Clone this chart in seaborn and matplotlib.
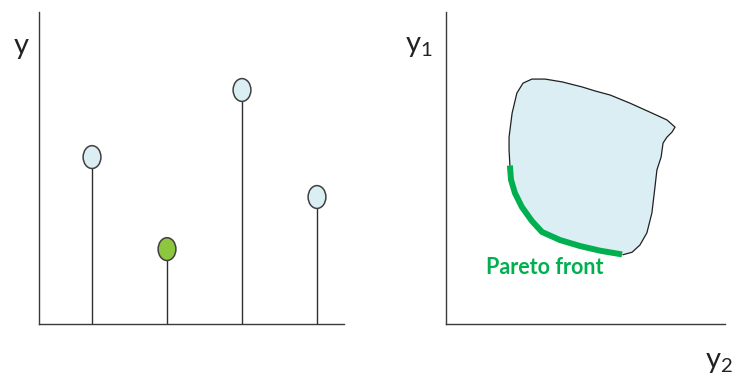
import matplotlib
matplotlib.use("Agg")
import matplotlib.pyplot as plt
from matplotlib.path import Path
from matplotlib.transforms import Affine2D
import seaborn as sns
import pandas as pd

# left panel: single objective, four candidate solutions
positions = [1, 2, 3, 4]
values = [5.35, 2.4, 7.5, 4.07]
kinds = ["other", "best", "other", "other"]

# right panel: feasible region in objective space (y2 horizontal, y1 vertical)
region_y2 = [2.29, 2.26, 2.26, 2.37, 2.54, 2.76, 3.08, 3.55, 4.16, 4.87, 5.34,
             5.88, 6.59, 7.31, 7.92, 8.21, 8.10, 7.92, 7.78, 7.71, 7.56, 7.49,
             7.38, 7.20, 6.95, 6.67, 6.34]
region_y1 = [5.08, 5.58, 5.99, 6.76, 7.40, 7.72, 7.85, 7.85, 7.76, 7.60, 7.47,
             7.34, 7.08, 6.79, 6.54, 6.31, 6.15, 5.99, 5.80, 5.35, 4.94, 4.39,
             3.56, 2.92, 2.53, 2.30, 2.22]
front_y2 = [6.31, 5.52, 4.80, 4.09, 3.44, 3.08, 2.72, 2.47, 2.33, 2.29]
front_y1 = [2.23, 2.35, 2.50, 2.69, 2.95, 3.30, 3.75, 4.20, 4.62, 5.08]

sns.set_style("white")
plt.rcParams["font.family"] = ["Lato", "DejaVu Sans"]

W, H = 741, 379
fig = plt.figure(figsize=(W / 100, H / 100), dpi=100)

def axes_box(left, top, right, bottom):
    return [left / W, 1 - bottom / H, (right - left) / W, (bottom - top) / H]

axis_col = "#3a3a3a"
ax1 = fig.add_axes(axes_box(39, 12, 344, 324))
ax2 = fig.add_axes(axes_box(446, 12, 725, 324))
for ax in (ax1, ax2):
    for side in ("top", "right"):
        ax.spines[side].set_visible(False)
    for side in ("left", "bottom"):
        ax.spines[side].set_color(axis_col)
        ax.spines[side].set_linewidth(1.0)
    ax.set_xticks([])
    ax.set_yticks([])

# stems + ellipse markers
df = pd.DataFrame({"x": positions, "y": values, "kind": kinds})
ax1.vlines(df["x"], 0, df["y"], color="#2e2e2e", linewidth=1.0, zorder=2)
ellipse = Path.unit_circle().transformed(Affine2D().scale(0.78, 1.0))
sns.scatterplot(data=df, x="x", y="y", hue="kind",
                palette={"other": "#dbeef4", "best": "#8dc63f"},
                marker=ellipse, s=270, edgecolor="#404040", linewidth=1.1,
                legend=False, ax=ax1, zorder=3)
ax1.set_xlim(0.293, 4.36)
ax1.set_ylim(0, 10)
ax1.set_xlabel("")
ax1.set_ylabel("")

# feasible region and Pareto front
ax2.fill(region_y2 + front_y2, region_y1 + front_y1, color="#dbeef4",
         linewidth=0, zorder=1)
ax2.plot(region_y2, region_y1, color="#202020", linewidth=0.9, zorder=2,
         solid_joinstyle="round")
sns.lineplot(x=front_y2, y=front_y1, sort=False, color="#00b050",
             linewidth=4.3, ax=ax2, zorder=3, solid_capstyle="butt",
             solid_joinstyle="round")
ax2.set_xlim(0, 10)
ax2.set_ylim(0, 10)
ax2.set_xlabel("")
ax2.set_ylabel("")

def put(px, py, s, **kw):
    fig.text(px / W, 1 - py / H, s, ha="center", va="center", **kw)

put(21, 46, "y", fontsize=21, color="#222222")
put(419, 46, r"$\mathregular{y_1}$", fontsize=21, color="#222222")
put(719, 362, r"$\mathregular{y_2}$", fontsize=21, color="#222222")
put(545, 268, "Pareto front", fontsize=15.5, fontweight="bold", color="#00b050")

fig.savefig("out.png", dpi=100)
